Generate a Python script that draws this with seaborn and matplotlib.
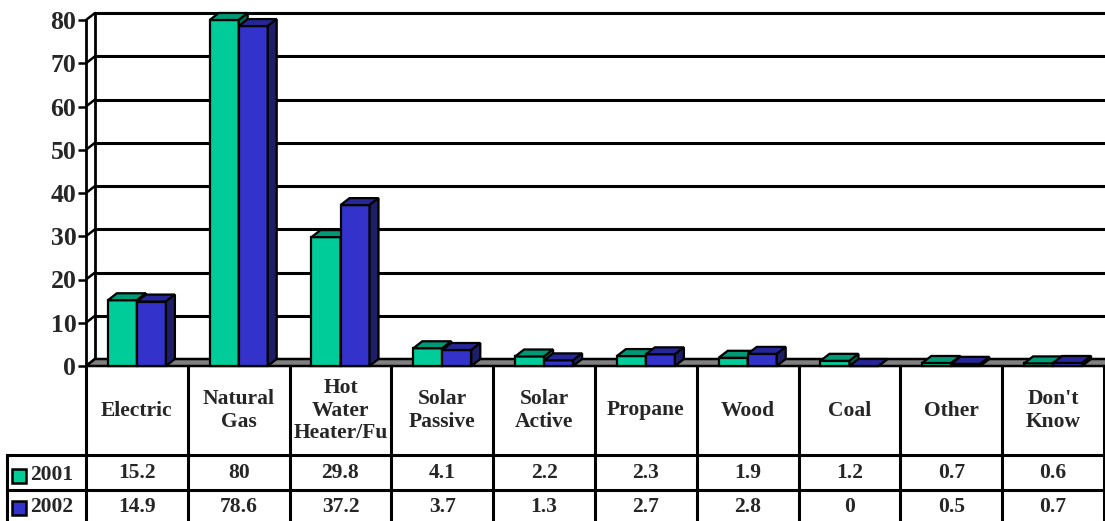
import matplotlib
matplotlib.use("Agg")
import matplotlib.pyplot as plt
from matplotlib.patches import Polygon, Rectangle
import pandas as pd
import seaborn as sns

# Heating fuel shares by survey year
categories = ["Electric", "Natural\nGas", "Hot\nWater\nHeater/Fu", "Solar\nPassive",
              "Solar\nActive", "Propane", "Wood", "Coal", "Other", "Don't\nKnow"]
years = ["2001", "2002"]
values_2001 = [15.2, 80, 29.8, 4.1, 2.2, 2.3, 1.9, 1.2, 0.7, 0.6]
values_2002 = [14.9, 78.6, 37.2, 3.7, 1.3, 2.7, 2.8, 0, 0.5, 0.7]
y_ticks = [0, 10, 20, 30, 40, 50, 60, 70, 80]

front_colors = {"2001": "#00CC99", "2002": "#3333CC"}
top_colors = {"2001": "#009976", "2002": "#262699"}
side_colors = {"2001": "#006B52", "2002": "#1E1E66"}

sns.set_theme(style="white")
plt.rcParams["font.family"] = ["Liberation Serif", "DejaVu Serif"]
plt.rcParams["font.weight"] = "bold"

W, H = 1105, 521
fig = plt.figure(figsize=(W / 100, H / 100), dpi=100)
fig.patch.set_facecolor("white")

# plot area (front plane)
x0_px, x1_px, y0_px, y1_px = 86, 1104, 366, 20
ax = fig.add_axes([x0_px / W, (H - y0_px) / H, (x1_px - x0_px) / W, (y0_px - y1_px) / H])
ax.patch.set_alpha(0)

df = pd.DataFrame({
    "category": categories * 2,
    "year": [y for y in years for _ in categories],
    "value": values_2001 + values_2002,
})
sns.barplot(data=df, x="category", y="value", hue="year", order=categories,
            hue_order=years, palette=front_colors, width=0.57, saturation=1,
            edgecolor="black", linewidth=1.6, errorbar=None, legend=False, ax=ax)

ax.set_xlim(-0.5, 9.5)
ax.set_ylim(0, 80)
n = len(categories)
px_x = n / (x1_px - x0_px)          # category units per pixel
px_y = 80 / (y0_px - y1_px)         # value units per pixel
dx, dy = 9 * px_x, 7 * px_y         # depth offset of the oblique projection

# back wall gridlines and left wall
for v in y_ticks[1:]:
    ax.plot([-0.5 + dx, 9.5 + dx + 1], [v + dy, v + dy], color="black", lw=2.2,
            clip_on=False, zorder=2, solid_capstyle="butt")
for v in y_ticks:
    ax.plot([-0.5, -0.5 + dx], [v, v + dy], color="black", lw=1.8,
            clip_on=False, zorder=2)
ax.plot([-0.5 + dx, -0.5 + dx], [dy, 80 + dy], color="black", lw=2,
        clip_on=False, zorder=2)

# floor
floor = Polygon([(-0.5, 0), (9.5 + 1, 0), (9.5 + 1 + dx, dy), (-0.5 + dx, dy)],
                closed=True, facecolor="#808080", edgecolor="black", lw=1.8,
                clip_on=False, zorder=3)
ax.add_patch(floor)

# 3D faces for each bar (drawn left to right so later bars hide earlier sides)
bars = list(ax.patches[: 2 * n])
labels = [y for y in years for _ in categories]
pairs = sorted(zip(bars, labels), key=lambda t: t[0].get_x())
for k, (p, yr) in enumerate(pairs):
    bx, bw, bh = p.get_x(), p.get_width(), p.get_height()
    z = 10 + 3 * k
    p.set_zorder(z)
    p.set_clip_on(False)
    top = Polygon([(bx, bh), (bx + bw, bh), (bx + bw + dx, bh + dy), (bx + dx, bh + dy)],
                  closed=True, facecolor=top_colors[yr], edgecolor="black", lw=1.6,
                  joinstyle="miter", clip_on=False, zorder=z + 1)
    side = Polygon([(bx + bw, 0), (bx + bw + dx, dy), (bx + bw + dx, bh + dy), (bx + bw, bh)],
                   closed=True, facecolor=side_colors[yr], edgecolor="black", lw=1.6,
                   joinstyle="miter", clip_on=False, zorder=z + 2)
    ax.add_patch(top)
    ax.add_patch(side)

# axes styling
for s in ["top", "right", "bottom"]:
    ax.spines[s].set_visible(False)
ax.spines["left"].set_color("black")
ax.spines["left"].set_linewidth(2)
ax.spines["left"].set_zorder(4)
ax.set_yticks(y_ticks)
ax.set_yticklabels([str(v) for v in y_ticks], fontsize=18.5, fontweight="bold")
ax.tick_params(axis="y", direction="out", length=6, width=1.8, color="black", pad=1, left=True)
ax.set_xticks([])
ax.set_xlabel("")
ax.set_ylabel("")

# data table below the plot
tab_h = H - y0_px
tab = fig.add_axes([x0_px / W, 0, (x1_px - x0_px) / W, tab_h / H])
tab.set_xlim(-0.5, 9.5)
tab.set_ylim(tab_h, 0)
tab.axis("off")

row_top, row1, row2 = 0, 89, 124
label_left = -0.5 - (x0_px - 7) * px_x
line_kw = dict(color="black", lw=2.2, clip_on=False, solid_capstyle="projecting")
for i in range(n + 1):
    tab.plot([-0.5 + i, -0.5 + i], [row_top, tab_h + 2], **line_kw)
tab.plot([label_left, 9.5], [row1, row1], **line_kw)
tab.plot([label_left, 9.5], [row2, row2], **line_kw)
tab.plot([label_left, label_left], [row1, tab_h + 2], **line_kw)

for i, c in enumerate(categories):
    tab.text(i, row1 / 2, c, ha="center", va="center", fontsize=15.5,
             fontweight="bold", linespacing=1.18)
    tab.text(i, (row1 + row2) / 2 + 1, f"{values_2001[i]:g}", ha="center",
             va="center", fontsize=15.5, fontweight="bold")
    tab.text(i, (row2 + tab_h) / 2 + 1, f"{values_2002[i]:g}", ha="center",
             va="center", fontsize=15.5, fontweight="bold")

for yr, yc in zip(years, [(row1 + row2) / 2 + 3, (row2 + tab_h) / 2 + 2]):
    kx = -0.5 - (x0_px - 12) * px_x
    tab.add_patch(Rectangle((kx, yc - 7), 14 * px_x, 14, facecolor=front_colors[yr],
                            edgecolor="black", lw=1.8, clip_on=False))
    tab.text(-0.5 - (x0_px - 30) * px_x, yc, yr, ha="left", va="center",
             fontsize=15.5, fontweight="bold")

fig.savefig("out.png", dpi=100, facecolor="white")
